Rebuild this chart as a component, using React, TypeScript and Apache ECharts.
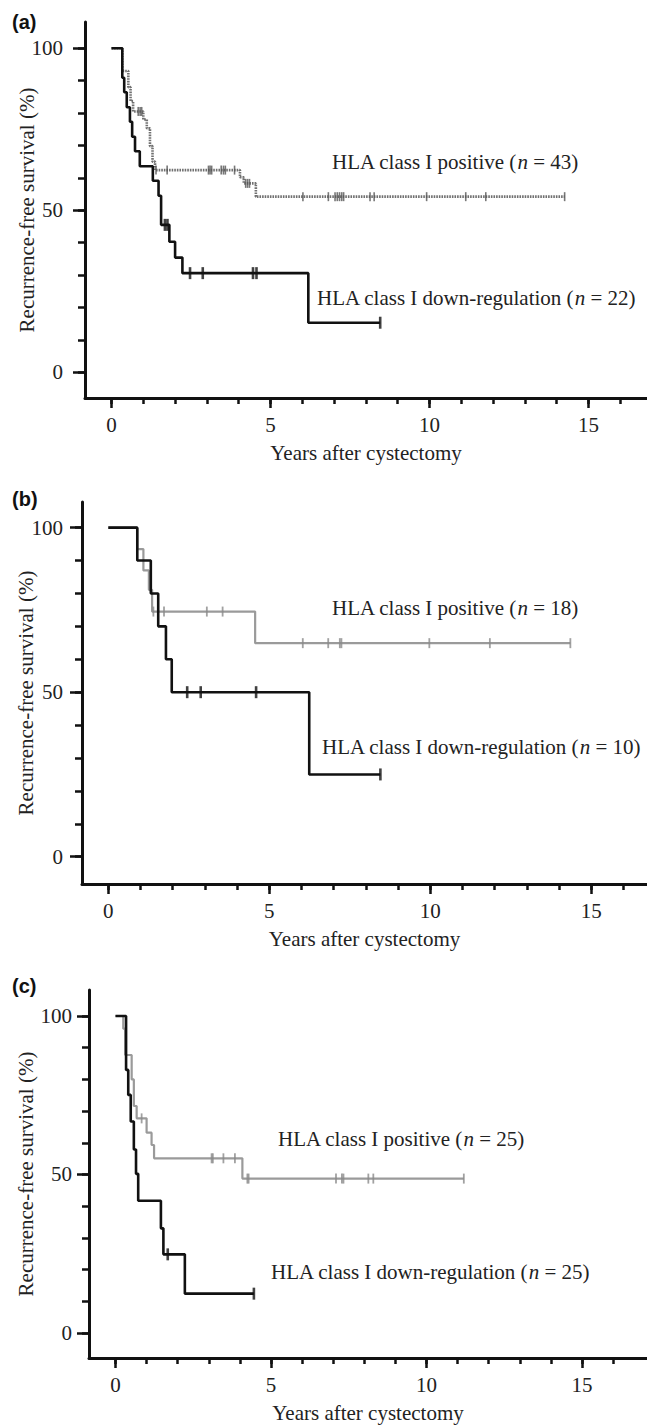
import React, { useEffect, useRef } from "react";
import * as echarts from "echarts";

// ---------------- DATA ----------------
// Panel (a)
const aDownTimes = [0, 0.34, 0.40, 0.48, 0.58, 0.65, 0.74, 0.89, 1.30, 1.48, 1.56, 1.82, 2.00, 2.23, 6.19, 8.45];
const aDownValues = [100, 90.9, 86.4, 81.8, 77.3, 72.7, 68.2, 63.6, 59.1, 54.5, 45.5, 40.3, 35.4, 30.6, 15.3, 15.3];
const aDownCensor = [1.68, 1.76, 2.47, 2.87, 4.45, 4.56, 8.45];
const aPosTimes = [0, 0.34, 0.53, 0.60, 0.68, 1.00, 1.11, 1.21, 1.29, 1.37, 4.04, 4.16, 4.54, 14.25];
const aPosValues = [100, 93.0, 88.0, 83.7, 80.5, 78.0, 75.3, 69.8, 65.0, 62.4, 60.2, 58.3, 54.2, 54.2];
const aPosCensor = [0.84, 0.90, 0.95, 1.40, 1.75, 3.05, 3.10, 3.15, 3.45, 3.52, 3.58, 3.87, 4.22, 4.28, 4.34, 6.02, 6.82, 7.03, 7.10, 7.17, 7.24, 7.30, 8.13, 8.26, 9.91, 11.14, 11.77, 14.25];

// Panel (b)
const bDownTimes = [0, 0.90, 1.32, 1.55, 1.79, 1.97, 6.24, 8.45];
const bDownValues = [100, 90, 80, 70, 60, 50, 25, 25];
const bDownCensor = [2.45, 2.87, 4.59, 8.45];
const bPosTimes = [0, 0.90, 1.09, 1.26, 1.36, 4.56, 14.35];
const bPosValues = [100, 93.5, 87.0, 81.1, 74.5, 64.9, 64.9];
const bPosCensor = [1.40, 1.73, 3.06, 3.55, 6.04, 6.83, 7.19, 7.24, 9.97, 11.85, 14.35];

// Panel (c)
const cDownTimes = [0, 0.34, 0.41, 0.49, 0.59, 0.66, 0.73, 1.46, 1.54, 2.23, 4.45];
const cDownValues = [100, 83.0, 75.1, 66.7, 57.9, 50.2, 41.7, 33.0, 24.8, 12.4, 12.4];
const cDownCensor = [1.68, 4.45];
const cPosTimes = [0, 0.25, 0.31, 0.52, 0.59, 0.68, 1.00, 1.16, 1.24, 4.08, 11.2];
const cPosValues = [100, 96.0, 87.7, 80.0, 71.6, 67.7, 63.2, 59.3, 55.1, 48.7, 48.7];
const cPosCensor = [0.84, 3.09, 3.13, 3.47, 3.84, 4.24, 4.28, 7.09, 7.28, 7.33, 8.13, 8.29, 11.2];

// Axis ticks / labels
const xMajorTicks = [0, 5, 10, 15];
const xMinorTicks = [0, 1, 2, 3, 4, 5, 6, 7, 8, 9, 10, 11, 12, 13, 14, 15, 16];
const yMajorTicks = [0, 50, 100];
const yMinorTicks = [0, 10, 20, 30, 40, 50, 60, 70, 80, 90, 100];

const panelLabels = ["(a)", "(b)", "(c)"];
const posLabels = ["HLA class I positive", "HLA class I positive", "HLA class I positive"];
const posN = [43, 18, 25];
const downLabels = ["HLA class I down-regulation", "HLA class I down-regulation", "HLA class I down-regulation"];
const downN = [22, 10, 25];

const xAxisTitle = "Years after cystectomy";
const yAxisTitle = "Recurrence-free survival (%)";

// ---------------- STYLE / LAYOUT ----------------
const SERIF = "Liberation Serif";
const SANS = "Liberation Sans";
const INK = "#111";
const TXT = "#222";

const panels = [
  {
    grid: { left: 85, top: 22, width: 562, height: 376 },
    x: [-0.833, 16.84], y: [-7.93, 108.1], yLabelMargin: 22, yNameGap: 48,
    downT: aDownTimes, downV: aDownValues, downC: aDownCensor,
    posT: aPosTimes, posV: aPosValues, posC: aPosCensor,
    posStyle: { color: "#707070", width: 2.6, type: [1.6, 1] }, posMark: { color: "#555", size: [1.6, 9] },
    labelY: 22, posText: [332, 162], downText: [317, 298],
  },
  {
    grid: { left: 82, top: 502, width: 565, height: 382 },
    x: [-0.817, 16.73], y: [-8.3, 107.8], yLabelMargin: 19, yNameGap: 46,
    downT: bDownTimes, downV: bDownValues, downC: bDownCensor,
    posT: bPosTimes, posV: bPosValues, posC: bPosCensor,
    posStyle: { color: "#9a9a9a", width: 2.2, type: "solid" }, posMark: { color: "#8a8a8a", size: [1.8, 10] },
    labelY: 499, posText: [332, 608], downText: [322, 747],
  },
  {
    grid: { left: 89, top: 990, width: 558, height: 368 },
    x: [-0.852, 17.09], y: [-7.9, 108.2], yLabelMargin: 17, yNameGap: 53,
    downT: cDownTimes, downV: cDownValues, downC: cDownCensor,
    posT: cPosTimes, posV: cPosValues, posC: cPosCensor,
    posStyle: { color: "#9a9a9a", width: 2.2, type: "solid" }, posMark: { color: "#8a8a8a", size: [1.8, 10] },
    labelY: 986, posText: [278, 1139], downText: [271, 1272],
  },
];

function survivalAt(times: number[], values: number[], t: number) {
  let v = values[0];
  for (let i = 0; i < times.length; i++) {
    if (times[i] <= t + 1e-9) v = values[i];
  }
  return v;
}

function buildOption() {
  const grids: any[] = [];
  const xAxes: any[] = [];
  const yAxes: any[] = [];
  const series: any[] = [];
  const graphics: any[] = [];

  const labelStyle = { fontFamily: SERIF, fontSize: 21, color: TXT };

  panels.forEach((p, i) => {
    grids.push({ ...p.grid, containLabel: false, outerBoundsMode: "none" });
    const xi = xAxes.length;
    xAxes.push({
      gridIndex: i, type: "value", min: p.x[0], max: p.x[1], position: "bottom",
      axisLine: { show: true, onZero: false, lineStyle: { color: INK, width: 3 } },
      axisTick: { show: true, length: 10, customValues: xMajorTicks, lineStyle: { color: INK, width: 2.5 } },
      axisLabel: { show: true, customValues: xMajorTicks, ...labelStyle, margin: 16 },
      splitLine: { show: false },
      name: xAxisTitle, nameLocation: "middle", nameGap: 44, nameMoveOverlap: false,
      nameTextStyle: { ...labelStyle },
    });
    xAxes.push({
      gridIndex: i, type: "value", min: p.x[0], max: p.x[1], position: "bottom",
      axisLine: { show: false, onZero: false },
      axisTick: { show: true, length: 6, customValues: xMinorTicks, lineStyle: { color: INK, width: 2.5 } },
      axisLabel: { show: false },
      splitLine: { show: false },
    });
    const yi = yAxes.length;
    yAxes.push({
      gridIndex: i, type: "value", min: p.y[0], max: p.y[1], position: "left",
      axisLine: { show: true, onZero: false, lineStyle: { color: INK, width: 3 } },
      axisTick: { show: true, length: 12, customValues: yMajorTicks, lineStyle: { color: INK, width: 2.5 } },
      axisLabel: { show: true, customValues: yMajorTicks, ...labelStyle, margin: p.yLabelMargin },
      splitLine: { show: false },
      name: yAxisTitle, nameLocation: "middle", nameGap: p.yNameGap, nameRotate: 90, nameMoveOverlap: false,
      nameTextStyle: { ...labelStyle },
    });
    yAxes.push({
      gridIndex: i, type: "value", min: p.y[0], max: p.y[1], position: "left",
      axisLine: { show: false, onZero: false },
      axisTick: { show: true, length: 7, customValues: yMinorTicks, lineStyle: { color: INK, width: 2.5 } },
      axisLabel: { show: false },
      splitLine: { show: false },
    });

    // positive (gray) curve
    series.push({
      type: "line", xAxisIndex: xi, yAxisIndex: yi, step: "end", showSymbol: false, symbol: "none",
      data: p.posT.map((t, k) => [t, p.posV[k]]),
      lineStyle: { color: p.posStyle.color, width: p.posStyle.width, type: p.posStyle.type },
      z: 2,
    });
    series.push({
      type: "scatter", xAxisIndex: xi, yAxisIndex: yi, symbol: "rect", symbolSize: p.posMark.size,
      data: p.posC.map((t) => [t, survivalAt(p.posT, p.posV, t)]),
      itemStyle: { color: p.posMark.color }, z: 3,
    });
    // down-regulation (black) curve
    series.push({
      type: "line", xAxisIndex: xi, yAxisIndex: yi, step: "end", showSymbol: false, symbol: "none",
      data: p.downT.map((t, k) => [t, p.downV[k]]),
      lineStyle: { color: INK, width: 2.6 },
      z: 4,
    });
    series.push({
      type: "scatter", xAxisIndex: xi, yAxisIndex: yi, symbol: "rect", symbolSize: [2.6, 12],
      data: p.downC.map((t) => [t, survivalAt(p.downT, p.downV, t)]),
      itemStyle: { color: INK }, z: 5,
    });

    // texts
    graphics.push({
      type: "text", x: 12, y: p.labelY,
      style: { text: panelLabels[i], font: `bold 20px ${SANS}`, fill: "#111", verticalAlign: "middle" },
    });
    const rich = {
      r: { fontFamily: SERIF, fontSize: 21, fill: TXT, color: TXT },
      it: { fontFamily: SERIF, fontSize: 21, fontStyle: "italic", fill: TXT, color: TXT },
    };
    graphics.push({
      type: "text", x: p.posText[0], y: p.posText[1],
      style: { text: `{r|${posLabels[i]} (}{it|n}{r| = ${posN[i]})}`, rich, verticalAlign: "middle", fill: TXT },
    });
    graphics.push({
      type: "text", x: p.downText[0], y: p.downText[1],
      style: { text: `{r|${downLabels[i]} (}{it|n}{r| = ${downN[i]})}`, rich, verticalAlign: "middle", fill: TXT },
    });
  });

  return {
    animation: false,
    backgroundColor: "#ffffff",
    textStyle: { fontFamily: SERIF, fontSize: 21, color: TXT },
    grid: grids,
    xAxis: xAxes,
    yAxis: yAxes,
    series,
    graphic: graphics,
  };
}

export default function App() {
  const ref = useRef<HTMLDivElement>(null);
  useEffect(() => {
    if (!ref.current) return;
    const chart = echarts.init(ref.current, undefined, { renderer: "svg" });
    chart.setOption(buildOption() as any);
    return () => chart.dispose();
  }, []);
  return (
    <div
      ref={ref}
      style={{ position: "absolute", left: 0, top: 0, width: 647, height: 1425, background: "#fff" }}
    />
  );
}
